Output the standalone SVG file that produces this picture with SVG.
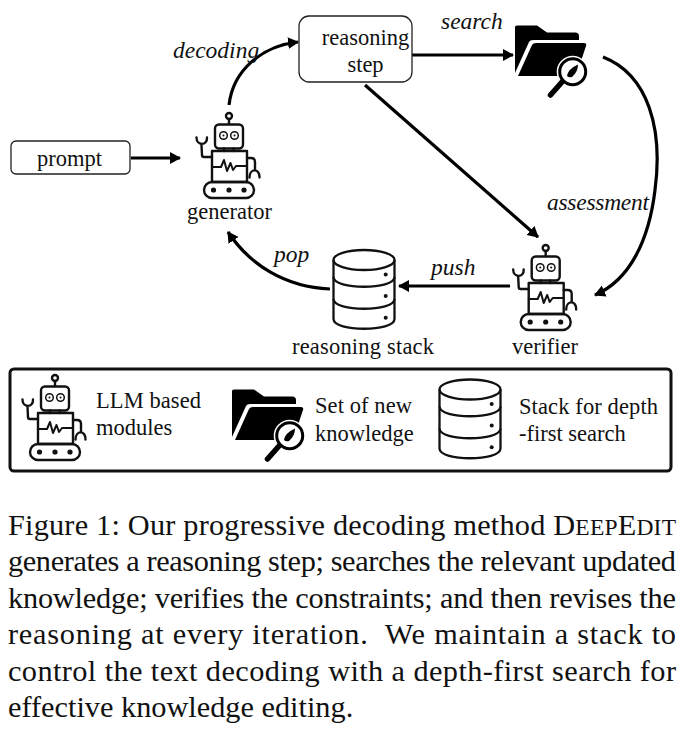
<svg xmlns="http://www.w3.org/2000/svg" width="691" height="731" viewBox="0 0 691 731">
<style>
text{font-family:"Liberation Serif","Times New Roman",serif;fill:#111}
.l{font-size:22.500px}
.i{font-size:23.500px;font-style:italic}
.c{font-size:30.300px}
.sc{font-size:23.500px}
.box{fill:#fff;stroke:#222;stroke-width:1.3}
.conn{fill:none;stroke:#000;stroke-width:3.2;marker-end:url(#ah)}
.ln{fill:none;stroke:#111;stroke-width:2.4;stroke-linecap:round;stroke-linejoin:round}
.cy{fill:none;stroke:#111;stroke-width:2.3}
</style>
<defs>
<marker id="ah" markerUnits="userSpaceOnUse" markerWidth="14" markerHeight="14" refX="10" refY="6" orient="auto"><path d="M0 0L11 6L0 12z" fill="#000"/></marker>
<symbol id="robot" overflow="visible">
<g class="ln">
<circle cx="229" cy="116" r="3"/><path d="M229 119V124"/>
<rect x="215" y="124.500" width="28" height="24" rx="4"/>
<circle cx="223.500" cy="135.500" r="3.800" stroke-width="1.500"/><circle cx="234.500" cy="135.500" r="3.800" stroke-width="1.500"/>
<circle cx="223.500" cy="135.500" r="1" fill="#111" stroke="none"/><circle cx="234.500" cy="135.500" r="1" fill="#111" stroke="none"/>
<path d="M224 148.500V151M233.500 148.500V151"/>
<rect x="212" y="151" width="35" height="31"/>
<path d="M212 167H221L224 160L227 171L230.500 163L233 170L236 166H247" stroke-width="2"/>
<path d="M212 157H204Q202 157 202 155L201.500 145M196.500 137.500C196.500 146 207.500 146 207 137.500"/>
<path d="M247 158H251Q255 158 255 162V170M249.500 177.500C249.500 168 260 168 259.500 177.500"/>
<rect x="204" y="182" width="50" height="16" rx="8"/>
<circle cx="213.500" cy="190" r="1.400" fill="#111"/><circle cx="229" cy="190" r="1.400" fill="#111"/><circle cx="244" cy="190" r="1.400" fill="#111"/>
</g>
</symbol>
<symbol id="folder" overflow="visible">
<path d="M515 27Q515 25.500 517 25.500H537L547 32.500H575Q579 32.500 579 36V40H533Q530 40 529 42L515 73z" fill="#000"/>
<path d="M518 76L532 45Q533 43 536 43H584Q587 43 586 46L576 76z" fill="#000"/>
<circle cx="572.700" cy="71.700" r="16" fill="#fff"/>
<circle cx="572.700" cy="71.700" r="13" fill="#fff" stroke="#000" stroke-width="3"/>
<path d="M567 76Q568 69 578 64.500Q578 72 572 77Q569 78 567 76z" fill="#000"/>
<path d="M562 82L550.500 95" stroke="#000" stroke-width="5.500" stroke-linecap="round"/>
</symbol>
<symbol id="stack" overflow="visible">
<path class="cy" d="M333.500 260V319C333.500 332 394.500 332 394.500 319V260"/>
<ellipse class="cy" cx="364" cy="260" rx="30.500" ry="10"/>
<path class="cy" d="M333.500 277C333.500 290 394.500 290 394.500 277M333.500 299C333.500 312 394.500 312 394.500 299"/>
<circle cx="385.700" cy="274.500" r="2" fill="#111"/><circle cx="385.700" cy="296" r="2" fill="#111"/><circle cx="385.700" cy="317.700" r="2" fill="#111"/>
</symbol>
</defs>
<rect width="691" height="731" fill="#fff"/>
<g id="connectors">
<path class="conn" d="M131 158H180"/>
<path class="conn" d="M229 105C233 70 262 46 298 42"/>
<path class="conn" d="M395 55H513"/>
<path class="conn" d="M365 85L538 237"/>
<path class="conn" d="M603 57C649 75 663 130 655 190C649 240 630 280 595 295"/>
<path class="conn" d="M510 286H399"/>
<path class="conn" d="M330 289C285 287 250 265 228 232"/>
</g>
<g id="edge-labels">
<text class="i" x="173" y="58">decoding</text>
<text class="i" x="441" y="29">search</text>
<text class="i" x="547" y="210" textLength="102">assessment</text>
<text class="i" x="431" y="275">push</text>
<text class="i" x="274" y="262">pop</text>
</g>
<g id="prompt"><rect class="box" x="11" y="141" width="119" height="33" rx="5"/><text class="l" x="69.500" y="166" text-anchor="middle">prompt</text></g>
<g id="reasoning-step"><rect class="box" x="299" y="16" width="113" height="66" rx="10"/><text class="l" x="365.500" y="45" text-anchor="middle">reasoning</text><text class="l" x="365.500" y="72" text-anchor="middle">step</text></g>
<g id="generator"><use href="#robot"/><text class="l" x="229.500" y="219" text-anchor="middle">generator</text></g>
<g id="knowledge"><use href="#folder"/></g>
<g id="verifier"><use href="#robot" x="316.700" y="132"/><text class="l" x="545" y="354" text-anchor="middle">verifier</text></g>
<g id="reasoning-stack"><use href="#stack"/><text class="l" x="363" y="354" text-anchor="middle" textLength="142">reasoning stack</text></g>
<g id="legend">
<rect x="10" y="369" width="661" height="102" rx="4" fill="#fff" stroke="#111" stroke-width="3"/>
<use href="#robot" x="-174" y="262"/>
<text class="l" x="96" y="408" textLength="105">LLM based</text>
<text class="l" x="96" y="435">modules</text>
<use href="#folder" x="-283" y="364"/>
<text class="l" x="315" y="413" textLength="97">Set of new</text>
<text class="l" x="315" y="441">knowledge</text>
<use href="#stack" x="106" y="129.500"/>
<text class="l" x="519" y="414" textLength="139">Stack for depth</text>
<text class="l" x="519" y="441">-first search</text>
</g>
<g id="caption">
<text class="c" x="8" y="535" textLength="668">Figure 1: Our progressive decoding method D<tspan class="sc">EEP</tspan>E<tspan class="sc">DIT</tspan></text>
<text class="c" x="8" y="571" textLength="668">generates a reasoning step; searches the relevant updated</text>
<text class="c" x="8" y="608" textLength="668">knowledge; verifies the constraints; and then revises the</text>
<text class="c" x="8" y="644" textLength="668" xml:space="preserve">reasoning at every iteration.  We maintain a stack to</text>
<text class="c" x="8" y="681" textLength="668">control the text decoding with a depth-first search for</text>
<text class="c" x="8" y="717">effective knowledge editing.</text>
</g>
</svg>
